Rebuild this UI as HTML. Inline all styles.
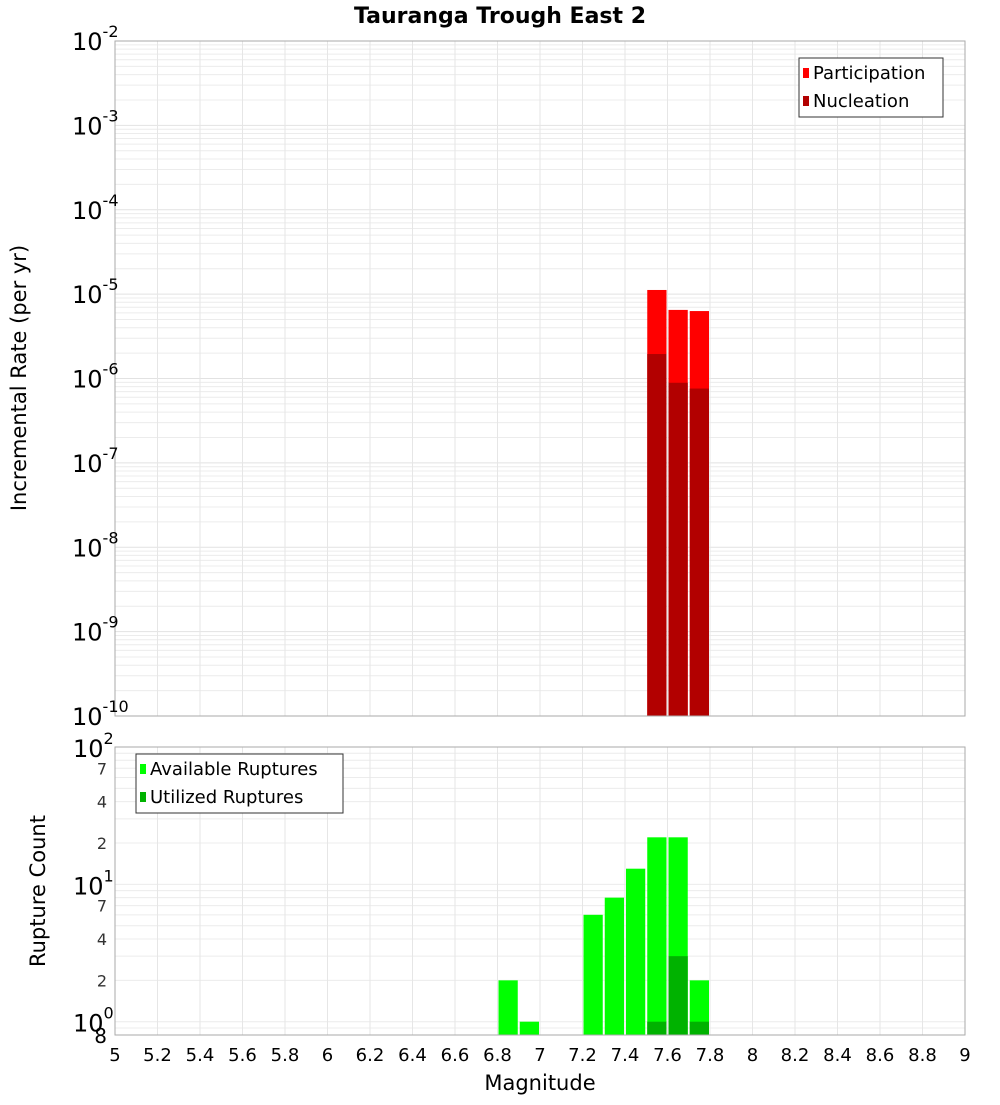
<!DOCTYPE html>
<html><head><meta charset="utf-8"><style>
body{margin:0;background:#fff;font-family:"Liberation Sans","DejaVu Sans",sans-serif}
svg text{font-family:"DejaVu Sans","Liberation Sans",sans-serif}
</style></head><body>
<svg id="c" width="1000" height="1100" xmlns="http://www.w3.org/2000/svg">
<text x="500" y="23" text-anchor="middle" font-size="22" font-weight="bold">Tauranga Trough East 2</text>
<text transform="translate(26,378) rotate(-90)" text-anchor="middle" font-size="21">Incremental Rate (per yr)</text>
<text transform="translate(45,891) rotate(-90)" text-anchor="middle" font-size="21">Rupture Count</text>
<text x="540" y="1090" text-anchor="middle" font-size="21">Magnitude</text>
<g id="g"></g>
</svg>
<script>
const binCenters=[7.55,7.65,7.75];
const participation=[1.12e-5,6.5e-6,6.3e-6];
const nucleation=[1.95e-6,8.9e-7,7.6e-7];
const countBins=[6.85,6.95,7.25,7.35,7.45,7.55,7.65,7.75];
const available=[2,1,6,8,13,22,22,2];
const utilizedBins=[7.55,7.65,7.75];
const utilized=[1,3,1];
const xTicks=[5,5.2,5.4,5.6,5.8,6,6.2,6.4,6.6,6.8,7,7.2,7.4,7.6,7.8,8,8.2,8.4,8.6,8.8,9];
const topExps=[-10,-9,-8,-7,-6,-5,-4,-3,-2];
const botMinor=[2,4,7];

const NS="http://www.w3.org/2000/svg";
const G=document.getElementById('g');
function mk(t,a,p){const e=document.createElementNS(NS,t);for(const k in a)e.setAttribute(k,a[k]);(p||G).appendChild(e);return e;}
const L=115,R=965;
const x=m=>L+(m-5)/4*(R-L);
const T0=41,T1=716;
const yT=v=>T1-(Math.log10(v)+10)/8*(T1-T0);
const B0=747,B1=1035,bMin=Math.log10(0.8),bMax=2;
const yB=v=>B1-(Math.log10(v)-bMin)/(bMax-bMin)*(B1-B0);

// top grid
const tg=mk('g',{});


for(const e of topExps){for(let k=1;k<10;k++){const v=k*Math.pow(10,e);if(v>1e-2)break;const yy=yT(v);mk('line',{x1:L,x2:R,y1:yy,y2:yy,stroke:k==1?'#e2e2e2':'#ececec','stroke-width':1},tg);}}
for(const t of xTicks){mk('line',{x1:x(t),x2:x(t),y1:T0,y2:T1,stroke:'#e6e6e6'},tg);}
// bottom grid
const bg=mk('g',{});


for(const e of [-1,0,1]){for(let k=1;k<10;k++){const v=k*Math.pow(10,e);if(v<0.8||v>100)continue;const yy=yB(v);mk('line',{x1:L,x2:R,y1:yy,y2:yy,stroke:'#ececec'},bg);}}
for(const t of xTicks){mk('line',{x1:x(t),x2:x(t),y1:B0,y2:B1,stroke:'#e6e6e6'},bg);}

// top bars
binCenters.forEach((c,i)=>{
 const x0=x(c-0.05)+1,w=x(c+0.05)-x(c-0.05)-2;
 const p=mk('rect',{x:x0,y:yT(participation[i]),width:w,height:T1-yT(participation[i]),fill:'#ff0000'});
 
 
 const n=mk('rect',{x:x0,y:yT(nucleation[i]),width:w,height:T1-yT(nucleation[i]),fill:'#b20000'});
 
 
});
// bottom bars
countBins.forEach((c,i)=>{
 const x0=x(c-0.05)+1,w=x(c+0.05)-x(c-0.05)-2;
 const r=mk('rect',{x:x0,y:yB(available[i]),width:w,height:B1-yB(available[i]),fill:'#00ff00'});
 
 
});
utilizedBins.forEach((c,i)=>{
 const x0=x(c-0.05)+1,w=x(c+0.05)-x(c-0.05)-2;
 const r=mk('rect',{x:x0,y:yB(utilized[i]),width:w,height:B1-yB(utilized[i]),fill:'#00b200'});
 
 
});

// frames
mk('rect',{x:L,y:T0,width:R-L,height:T1-T0,fill:'none',stroke:'#aaa'});
mk('rect',{x:L,y:B0,width:R-L,height:B1-B0,fill:'none',stroke:'#aaa'});

// top y ticks
for(const e of topExps){
 const yy=yT(Math.pow(10,e));
 const t=mk('text',{x:72,y:yy+9,'font-size':24});
 
 
 t.textContent='10';
 const s=mk('tspan',{dy:-13,'font-size':16},t);s.textContent=String(e);
}
// bottom y ticks
for(const e of [0,1,2]){
 const yy=yB(Math.pow(10,e));
 const t=mk('text',{x:73,y:yy+10,'font-size':24});
 
 
 t.textContent='10';
 const s=mk('tspan',{dy:-13,'font-size':16},t);s.textContent=String(e);
}
for(const e of [0,1]){for(const k of botMinor){const yy=yB(k*Math.pow(10,e));
 const t=mk('text',{x:107,y:yy+6,'font-size':16,'text-anchor':'end',fill:'#333'});
 
 
 t.textContent=String(k);}}
{const t=mk('text',{x:107,y:B1+8,'font-size':20,'text-anchor':'end'});
 
 
 t.textContent='8';}
// x ticks
for(const v of xTicks){
 const t=mk('text',{x:x(v),y:1061,'font-size':18,'text-anchor':'middle'});
 
 
 t.textContent=String(v);
}
// legends
function legend(name,bx,by,bw,bh,items){
 const g=mk('g',{});
 
 
 mk('rect',{x:bx,y:by,width:bw,height:bh,fill:'#fff',stroke:'#333'},g);
 items.forEach((it,i)=>{
  const cy=by+15+i*28;
  mk('rect',{x:bx+4,y:cy-5,width:6,height:10,fill:it[1]},g);
  const t=mk('text',{x:bx+14,y:cy+6,'font-size':18},g);t.textContent=it[0];
 });
}
legend('top-legend',799,58,144,59,[['Participation','#ff0000'],['Nucleation','#b20000']]);
legend('bottom-legend',136,754,207,59,[['Available Ruptures','#00ff00'],['Utilized Ruptures','#00b200']]);
</script>
</body></html>
